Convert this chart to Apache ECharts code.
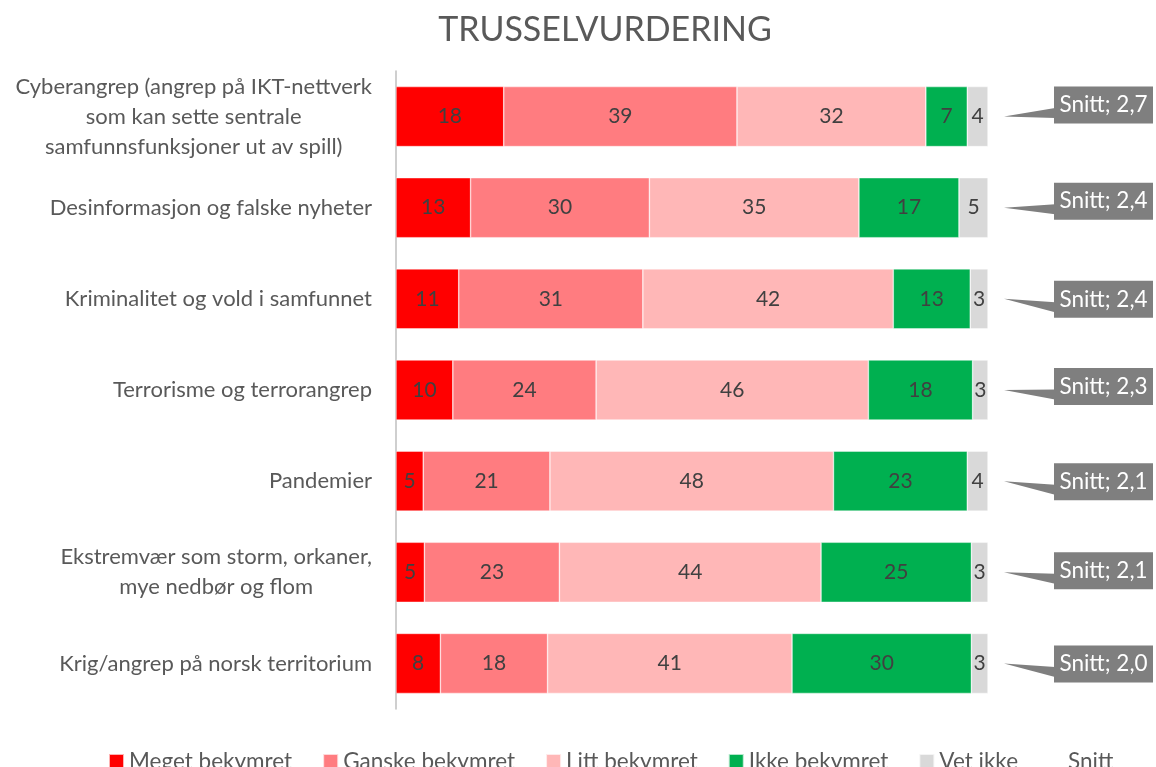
<!DOCTYPE html>
<html><head><meta charset="utf-8">
<script src="https://cdn.jsdelivr.net/npm/echarts@6/dist/echarts.min.js"></script>
<style>html,body{margin:0;padding:0;background:#fff}#c{width:1156px;height:767px}</style>
</head><body><div id="c"></div>
<script>
const categories = [
  'Cyberangrep (angrep på IKT-nettverk\nsom kan sette sentrale\nsamfunnsfunksjoner ut av spill)',
  'Desinformasjon og falske nyheter',
  'Kriminalitet og vold i samfunnet',
  'Terrorisme og terrorangrep',
  'Pandemier',
  'Ekstremvær som storm, orkaner,\nmye nedbør og flom',
  'Krig/angrep på norsk territorium'
];
const meget  = [18.2, 12.6, 10.6,  9.6,  4.6,  4.8,  7.5];
const ganske = [39.4, 30.2, 31.1, 24.2, 21.4, 22.8, 18.1];
const litt   = [31.9, 35.4, 42.3, 46.0, 47.9, 44.2, 41.3];
const ikke   = [ 7.0, 16.9, 13.0, 17.6, 22.6, 25.4, 30.3];
const vetIkke= [ 3.5,  4.9,  3.0,  2.6,  3.5,  2.8,  2.8];
const snitt  = [2.7, 2.4, 2.4, 2.3, 2.1, 2.1, 2.0];
const seriesNames = ['Meget bekymret', 'Ganske bekymret', 'Litt bekymret', 'Ikke bekymret', 'Vet ikke'];
const snittName = 'Snitt';

const FONT = 'Lato';
const colors = ['#FF0000', '#FF7C80', '#FFB7B7', '#00B050', '#D9D9D9'];
const calloutTop = [-30, -25, -18, -22, -18, -20, -18];

const valueSets = [meget, ganske, litt, ikke, vetIkke];
const totals = categories.map((_, i) => valueSets.reduce((s, a) => s + a[i], 0));

const chart = echarts.init(document.getElementById('c'));

const barSeries = seriesNames.map((name, k) => ({
  name, type: 'bar', stack: 'total', barWidth: 60,
  data: valueSets[k],
  itemStyle: { color: colors[k], borderColor: 'rgba(255,255,255,0.7)', borderWidth: 0.6 },
  label: {
    show: true, position: 'inside', color: '#404040',
    fontFamily: FONT, fontSize: 21,
    formatter: p => String(Math.round(p.value))
  },
  emphasis: { disabled: true }
}));

const snittSeries = {
  name: snittName, type: 'custom', coordinateSystem: 'cartesian2d',
  encode: { x: 0, y: 1 },
  data: snitt.map((v, i) => [totals[i], i, v]),
  clip: false,
  renderItem: (params, api) => {
    const i = api.value(1);
    const p = api.coord([api.value(0), i]);
    const tipX = p[0] + 16, tipY = p[1];
    const left = p[0] + 66, w = 99, h = 37;
    const top = tipY + calloutTop[i];
    return {
      type: 'group',
      children: [
        { type: 'polygon', shape: { points: [[tipX, tipY], [left + 1, top + 21.5], [left + 1, top + 31.5]] }, style: { fill: '#7F7F7F' } },
        { type: 'rect', shape: { x: left, y: top, width: w, height: h }, style: { fill: '#7F7F7F' } },
        { type: 'text', style: {
            text: 'Snitt; ' + api.value(2).toFixed(1).replace('.', ','),
            x: left + w / 2, y: top + h / 2, align: 'center', verticalAlign: 'middle',
            fill: '#FFFFFF', font: '22.5px ' + FONT } }
      ]
    };
  }
};

const option = {
  animation: false,
  title: {
    text: 'TRUSSELVURDERING', left: 600, top: 8, textAlign: 'center',
    textStyle: { fontFamily: FONT, fontWeight: 'normal', fontSize: 34, color: '#595959' }
  },
  legend: {
    left: 103, top: 745, itemWidth: 15, itemHeight: 15, itemGap: 30,
    textStyle: { fontFamily: FONT, fontSize: 22.5, color: '#595959' },
    data: seriesNames.map(n => ({ name: n, icon: 'rect' })).concat([{ name: snittName, icon: 'none' }]),
    selectedMode: false
  },
  grid: { left: 396, right: 168, top: 71, bottom: 58, containLabel: false },
  xAxis: { type: 'value', min: 0, max: 100, show: false },
  yAxis: {
    type: 'category', inverse: true, data: categories,
    axisLine: { show: true, lineStyle: { color: '#BFBFBF', width: 1.5 } },
    axisTick: { show: false },
    axisLabel: {
      margin: 24, color: '#595959', fontFamily: FONT, fontSize: 22, lineHeight: 30,
      formatter: v => v.split('\n').map(l => '{c|' + l + '}').join('\n'),
      rich: { c: { align: 'center', color: '#595959', fontFamily: FONT, fontSize: 22, lineHeight: 30 } }
    }
  },
  series: barSeries.concat([snittSeries])
};
chart.setOption(option);
</script>
</body></html>
